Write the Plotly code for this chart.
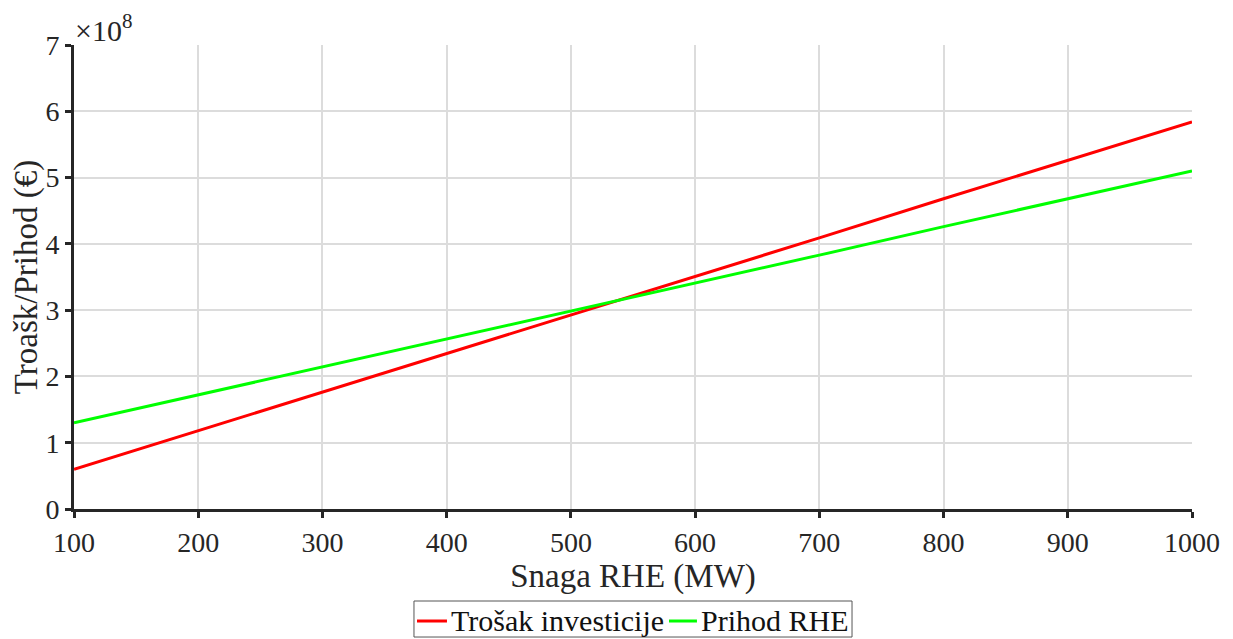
import plotly.graph_objects as go

snaga = [100, 200, 300, 400, 500, 600, 700, 800, 900, 1000]
trosak = [0.60, 1.18, 1.76, 2.35, 2.93, 3.51, 4.09, 4.68, 5.26, 5.84]
prihod = [1.30, 1.72, 2.14, 2.57, 2.99, 3.41, 3.83, 4.26, 4.68, 5.10]
x_ticks = [100, 200, 300, 400, 500, 600, 700, 800, 900, 1000]
y_ticks = [0, 1, 2, 3, 4, 5, 6, 7]
series_names = ["Trošak investicije", "Prihod RHE"]
series_colors = ["#ff0000", "#00ff00"]

FONT = "Liberation Serif"
TXT = "#262626"

fig = go.Figure()
for name, color, vals in zip(series_names, series_colors, [trosak, prihod]):
    fig.add_trace(go.Scatter(x=snaga, y=vals, mode="lines", name=name,
                             line=dict(color=color, width=3), showlegend=False))

# Legend drawn in paper coordinates (box below the x-axis title)
shapes = [dict(type="rect", xref="paper", yref="paper", x0=0.3041, x1=0.6959, y0=-0.2759, y1=-0.1983,
               line=dict(color="#555555", width=1), fillcolor="white")]
legend_line_x = [(0.3068, 0.3336), (0.5322, 0.5572)]
legend_text_x = [0.3354, 0.5590]
annotations = []
for name, color, (lx0, lx1), tx in zip(series_names, series_colors, legend_line_x, legend_text_x):
    shapes.append(dict(type="line", xref="paper", yref="paper", x0=lx0, x1=lx1, y0=-0.2414, y1=-0.2414,
                       line=dict(color=color, width=3)))
    annotations.append(dict(text=name, xref="paper", yref="paper", x=tx, y=-0.2395, xanchor="left",
                            yanchor="middle", showarrow=False,
                            font=dict(size=30, family=FONT, color="#111111")))

annotations.append(dict(text="×10<sup>8</sup>", xref="paper", yref="paper", x=0.0, y=1.0,
                        xanchor="left", yanchor="bottom", showarrow=False,
                        font=dict(size=30, family=FONT, color=TXT), xshift=-1, yshift=-4))

fig.update_layout(
    width=1225, height=631,
    margin=dict(l=66, r=41, t=37, b=130, autoexpand=False),
    paper_bgcolor="white", plot_bgcolor="white",
    font=dict(family=FONT, size=28, color=TXT),
    showlegend=False,
    xaxis=dict(range=[100, 1000], tickvals=x_ticks, showgrid=True, gridcolor="#dcdcdc", gridwidth=2,
               showline=True, linecolor=TXT, linewidth=3, ticks="outside", ticklen=6,
               tickwidth=3, tickcolor=TXT, zeroline=False, automargin=False,
               tickfont=dict(size=28, family=FONT, color=TXT),
               title=dict(text="Snaga RHE (MW)", font=dict(size=33, family=FONT, color=TXT), standoff=4)),
    yaxis=dict(range=[0, 7], tickvals=y_ticks, showgrid=True, gridcolor="#dcdcdc", gridwidth=2,
               showline=True, linecolor=TXT, linewidth=3, ticks="outside", ticklen=6,
               tickwidth=3, tickcolor=TXT, zeroline=False, automargin=False,
               tickfont=dict(size=28, family=FONT, color=TXT),
               title=dict(text="Troašk/Prihod (€)", font=dict(size=33, family=FONT, color=TXT), standoff=0)),
    shapes=shapes,
    annotations=annotations,
)

fig.write_html("out.html")
